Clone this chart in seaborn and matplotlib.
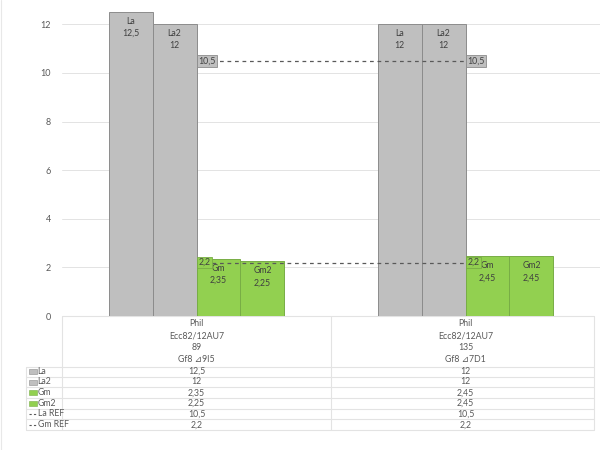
import numpy as np
import pandas as pd
import matplotlib
matplotlib.use("Agg")
import matplotlib.pyplot as plt
import matplotlib.transforms as mtrans
import seaborn as sns

# ---- data ----
brand = ["Phil", "Phil"]
tube = ["Ecc82/12AU7", "Ecc82/12AU7"]
number = ["89", "135"]
code = ["Gf8 \u22bf9I5", "Gf8 \u22bf7D1"]
series_names = ["La", "La2", "Gm", "Gm2"]
La = [12.5, 12]
La2 = [12, 12]
Gm = [2.35, 2.45]
Gm2 = [2.25, 2.45]
La_REF = [10.5, 10.5]
Gm_REF = [2.2, 2.2]
y_ticks = [0, 2, 4, 6, 8, 10, 12]

GRAY = "#bfbfbf"
GREEN = "#92d050"
GRAY_EDGE = "#8c8c8c"
GREEN_EDGE = "#78ad45"
TXT = "#595959"
LINE = "#e3e3e3"

def fmt(v):
    return f"{v:g}".replace(".", ",")

sns.set_theme(style="white")
plt.rcParams["font.family"] = ["Lato", "DejaVu Sans"]

cats = [f"c{i}" for i in range(len(brand))]
values = {"La": La, "La2": La2, "Gm": Gm, "Gm2": Gm2}
rows = []
for s in series_names:
    for c, v in zip(cats, values[s]):
        rows.append({"cat": c, "series": s, "value": v})
df = pd.DataFrame(rows)

W, H = 600, 450
fig = plt.figure(figsize=(6, 4.5), dpi=100)
fig.patch.set_facecolor("white")

# overlay axes in pixel coordinates for the data table
axt = fig.add_axes([0, 0, 1, 1], zorder=0)
axt.set_xlim(0, W)
axt.set_ylim(H, 0)
axt.axis("off")

left, right, top, bottom = 62, 600, 0, 316
ax = fig.add_axes([left / W, 1 - bottom / H, (right - left) / W, (bottom - top) / H], zorder=1)
ax.patch.set_alpha(0)

palette = {"La": GRAY, "La2": GRAY, "Gm": GREEN, "Gm2": GREEN}
sns.barplot(data=df, x="cat", y="value", hue="series", hue_order=series_names,
            order=cats, palette=palette, width=0.654, dodge=True, ax=ax,
            legend=False, saturation=1, linewidth=0.7)

for cont, s in zip(ax.containers, series_names):
    ec = GREEN_EDGE if s.startswith("Gm") else GRAY_EDGE
    for bar, v in zip(cont, values[s]):
        bar.set_edgecolor(ec)
        bar.set_linewidth(0.7)
        cx = bar.get_x() + bar.get_width() / 2
        ax.annotate(f"{s}\n{fmt(v)}", (cx, bar.get_height()), xytext=(0, -3.5),
                    textcoords="offset points", ha="center", va="top",
                    fontsize=6.3, color="#404040", linespacing=1.45, zorder=5)

xpos = np.arange(len(cats))
for ref, fc, ec in [(La_REF, GRAY, GRAY_EDGE), (Gm_REF, GREEN, GREEN_EDGE)]:
    sns.lineplot(x=xpos, y=ref, ax=ax, color="#595959", lw=0.9,
                 linestyle=(0, (3, 3)), zorder=4)
    for x, v in zip(xpos, ref):
        ax.annotate(fmt(v), (x, v), xytext=(1.5, 0), textcoords="offset points",
                    ha="left", va="center", fontsize=6.3, color="#404040", zorder=6,
                    bbox=dict(boxstyle="square,pad=0.15", fc=fc, ec=ec, lw=0.6))

ax.set_xlim(-0.5, len(cats) - 0.5)
ax.set_ylim(0, 13)
ax.set_yticks(y_ticks)
ax.set_yticklabels([str(t) for t in y_ticks], fontsize=6.5, color=TXT)
ax.tick_params(axis="y", length=0, pad=8)
ax.set_xticks([])
ax.set_xlabel("")
ax.set_ylabel("")
ax.grid(axis="y", color=LINE, lw=0.7)
ax.set_axisbelow(True)
for sp in ax.spines.values():
    sp.set_visible(False)

# ---- data table ----
bt = mtrans.blended_transform_factory(ax.transData, axt.transData)
tkw = dict(fontsize=6.3, color=TXT, ha="center", va="center")
head_y = [324, 336, 348, 360]
for levels, y in zip([brand, tube, number, code], head_y):
    for x, lab in zip(xpos, levels):
        ax.text(x, y, lab, transform=bt, **tkw)

row_y = [371.3, 382, 392.7, 403.3, 414, 424.7]
row_lines = [366.7, 376.7, 387.3, 398, 408.7, 419.3, 430]
table_right = 594
axt.plot([left, table_right], [316, 316], color=LINE, lw=0.8)
for yl in row_lines:
    axt.plot([26, table_right], [yl, yl], color=LINE, lw=0.8)
axt.plot([left, left], [316, 430], color=LINE, lw=0.8)
axt.plot([26, 26], [366.7, 430], color=LINE, lw=0.8)
axt.plot([table_right, table_right], [316, 430], color=LINE, lw=0.8)
# category separator
sep_x = ax.transData.transform((0.5, 0))[0]
axt.plot([sep_x, sep_x], [316, 430], color=LINE, lw=0.8)

row_names = ["La", "La2", "Gm", "Gm2", "La REF", "Gm REF"]
row_vals = [La, La2, Gm, Gm2, La_REF, Gm_REF]
row_colors = [GRAY, GRAY, GREEN, GREEN, None, None]
for name, vals, col, y in zip(row_names, row_vals, row_colors, row_y):
    if col is not None:
        axt.add_patch(plt.Rectangle((29, y - 2.5), 8, 5, fc=col,
                                    ec=GRAY_EDGE if col == GRAY else GREEN_EDGE, lw=0.4))
    else:
        axt.plot([29, 37], [y, y], color="#595959", lw=0.8, linestyle=(0, (2, 2)))
    axt.text(37.5, y, name, fontsize=6.3, color=TXT, ha="left", va="center")
    for x, v in zip(xpos, vals):
        ax.text(x, y, fmt(v), transform=bt, **tkw)

# faint chart border
axt.plot([1, 1], [0, H], color="#e8e8e8", lw=0.8)

fig.savefig("out.png", dpi=100, facecolor="white")
